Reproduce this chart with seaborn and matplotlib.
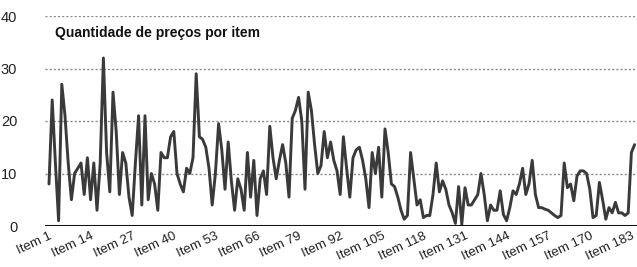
import matplotlib
matplotlib.use("Agg")
import matplotlib.pyplot as plt
import seaborn as sns
import pandas as pd
import numpy as np

values = [
    8, 24, 12, 1, 27, 21, 12, 5, 10, 11,
    12, 6, 13, 5, 12, 3, 12, 32, 14, 6.5,
    25.5, 18, 6, 14, 12, 5.5, 2, 12, 21, 4,
    21, 5, 10, 8, 3, 14, 13, 13, 17, 18,
    10, 8, 6.5, 11, 10, 13, 29, 17, 16.5, 15,
    11, 4, 10, 19.5, 14.5, 7, 16, 8.5, 3, 9,
    7, 3, 14, 5.5, 12.5, 2, 9, 10.5, 6, 19,
    13, 9, 12.5, 15.5, 12, 5.5, 20.5, 22, 24.5, 20,
    7, 25.5, 22, 15.5, 10, 11.5, 18, 13, 16, 12.5,
    10.5, 6, 17, 11, 5.5, 13, 14.5, 15, 12.5, 9,
    3.5, 14, 10, 15, 5.5, 18.5, 14, 8, 7.5, 5.5,
    3, 1.3, 2, 14, 9, 4, 5, 1.6, 2, 2,
    6, 12, 6.5, 8.6, 7, 4, 2.5, 0.5, 7.5, 0.3,
    7.3, 4, 4, 5, 6, 10, 6, 1, 4, 3,
    3, 6.7, 2.2, 1, 3.5, 6.7, 6, 8, 11, 6,
    8, 12.5, 6, 3.5, 3.5, 3.2, 3, 2.5, 2, 1.6,
    2, 12, 7.3, 8, 4.8, 9.5, 10.5, 10.5, 10, 7,
    1.6, 2, 8.3, 5, 1.3, 3.5, 2.5, 4.5, 2.5, 2.5,
    2, 2.5, 14, 15.5,
]
items = [f"Item {i}" for i in range(1, len(values) + 1)]
tick_items = [f"Item {i}" for i in range(1, len(values) + 1, 13)]
y_ticks = [0, 10, 20, 30, 40]
title = "Quantidade de preços por item"

df = pd.DataFrame({"pos": np.arange(len(values)), "item": items, "qtd": values})

sns.set_style("white")
plt.rcParams["font.family"] = ["Liberation Sans", "DejaVu Sans"]

fig = plt.figure(figsize=(6.37, 2.67), dpi=100)
ax = fig.add_axes([45 / 637, 1 - 226 / 267, 592 / 637, 210 / 267])

sns.lineplot(data=df, x="pos", y="qtd", ax=ax, color="#3a3a3a", linewidth=2.1)

ax.set_xlim(-1.25, len(values) - 0.25)
ax.set_ylim(0, 40)
ax.set_yticks(y_ticks)
ax.set_yticklabels([str(t) for t in y_ticks], fontsize=10.5, color="#222222")
tick_pos = [items.index(t) for t in tick_items]
ax.set_xticks(tick_pos)
ax.set_xticklabels(tick_items, rotation=25, ha="right", rotation_mode="anchor",
                   fontsize=9.5, color="#222222")
ax.tick_params(axis="y", length=0, pad=20)
ax.tick_params(axis="x", length=0, pad=3)

for t in y_ticks[1:]:
    ax.axhline(t, color="#8a8a8a", linewidth=1.0, linestyle=(0, (1.5, 1.5)), zorder=0)
ax.axhline(0, color="#111111", linewidth=2.2, zorder=3)

for s in ["top", "right", "left", "bottom"]:
    ax.spines[s].set_visible(False)
ax.set_xlabel("")
ax.set_ylabel("")

fig.text(55 / 637, 1 - 33 / 267, title, fontsize=10, fontweight="bold",
         va="center", ha="left", color="#111111")

fig.savefig("out.png", dpi=100)
